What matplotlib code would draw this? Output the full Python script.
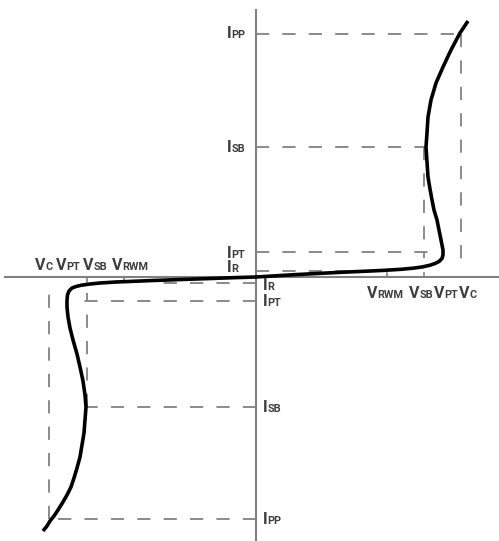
import matplotlib
matplotlib.use("Agg")
import matplotlib.pyplot as plt
from matplotlib.offsetbox import TextArea, HPacker, AnnotationBbox

# I-V curve of a bidirectional TVS diode (arbitrary units, origin at the axis crossing)
curve_v = [-213, -209, -206, -202, -198, -193, -189, -185, -182, -179, -176, -174,
           -172, -171, -170, -171, -173, -176, -179, -183, -186, -188, -189, -189,
           -188.5, -187, -184, -180, -175, -166, -156, -140, -120, -100, -80, -60,
           -40, -20, 0, 20, 40, 61, 85, 110, 127, 145, 157, 166, 174, 179, 183, 186,
           187, 187, 186, 185, 183, 181, 178, 176, 174, 172, 171, 170, 171, 172,
           175, 180, 187, 195, 204, 208, 212]
curve_i = [-254, -249, -244, -239, -233, -225, -218, -210, -201, -191, -180, -168,
           -156, -143, -130, -118, -104, -90, -77, -63, -51, -40, -30, -23,
           -18, -14, -11, -9.5, -8.3, -7, -6, -5, -4.2, -3.4, -2.7, -2,
           -1.3, -0.6, 0, 1.2, 2.4, 3.5, 4.7, 5.8, 6.6, 7.7, 8.8, 10, 11.8, 13.5, 15.5, 18.5,
           22, 27, 32, 37, 47, 57, 67, 77, 88, 100, 115, 130, 144, 160,
           177, 194, 210, 227, 244, 250, 256]

# characteristic levels, positive branch
V_POS = {"RWM": 131, "SB": 168, "PT": 187, "C": 205}
I_POS = {"R": 6.5, "PT": 25, "SB": 130, "PP": 243}
# negative branch
V_NEG = {"RWM": -132, "SB": -169, "PT": -189, "C": -207}
I_NEG = {"R": -6, "PT": -24, "SB": -130, "PP": -242}

TXT = "#3d3d3d"
DASH = "#8a8a8a"
plt.rcParams["lines.scale_dashes"] = False

fig = plt.figure(figsize=(4.99, 5.41), dpi=100)
ax = fig.add_axes([0, 0, 1, 1])
ax.set_xlim(-256, 243)
ax.set_ylim(-264, 277)
ax.axis("off")

# axes
ax.plot([-251, 243], [0, 0], color="#808080", lw=1.5, zorder=2)
ax.plot([0, 0], [-264, 267], color="#808080", lw=1.5, zorder=2)

dash_kw = dict(color=DASH, lw=1.4, ls=(0, (9.5, 9.5)), zorder=1)


def hline(y, x1):
    ax.plot([0, x1], [y, y], **dash_kw)


def vline(x, y0, y1):
    ax.plot([x, x], [y0, y1], **dash_kw)


# positive side guides
hline(I_POS["PP"], V_POS["C"])
vline(V_POS["C"], I_POS["PP"], 7)
hline(I_POS["SB"], 170)
vline(V_POS["SB"], I_POS["SB"], 19)
hline(I_POS["PT"], 172)
hline(I_POS["R"], 94)

# negative side guides
hline(I_NEG["PP"], V_NEG["C"])
vline(V_NEG["C"], I_NEG["PP"], -11)
hline(I_NEG["SB"], -170)
vline(V_NEG["SB"], I_NEG["SB"], -16)
hline(I_NEG["PT"], -176)
hline(I_NEG["R"], -96)

# small ticks on the voltage axis
for x in (V_POS["RWM"], V_POS["SB"]):
    ax.plot([x, x], [0, 4.5], color="#808080", lw=1.2, zorder=2)
for x in (V_NEG["RWM"], V_NEG["SB"]):
    ax.plot([x, x], [0, -5], color="#808080", lw=1.2, zorder=2)

ax.plot(curve_v, curve_i, color="black", lw=2.6, solid_joinstyle="round",
        solid_capstyle="butt", zorder=3)


def label(x, y, big, small):
    font = dict(family="Roboto", weight="bold", color=TXT)
    box = HPacker(children=[TextArea(big, textprops=dict(fontsize=11.5, **font)),
                            TextArea(small, textprops=dict(fontsize=7.8, **font))],
                  align="baseline", pad=0, sep=0)
    ab = AnnotationBbox(box, (x, y), box_alignment=(0, 0.5), frameon=False,
                        pad=0, annotation_clip=False)
    ax.add_artist(ab)


# current labels
label(-29, 243, "I", "PP")
label(-29, 130, "I", "SB")
label(-29, 24, "I", "PT")
label(-29, 9, "I", "R")
label(7, -9, "I", "R")
label(7, -25, "I", "PT")
label(7, -130, "I", "SB")
label(7, -242, "I", "PP")

# voltage labels
label(111, -16, "V", "RWM")
label(153, -16, "V", "SB")
label(178, -16, "V", "PT")
label(203, -16, "V", "C")
label(-221, 12, "V", "C")
label(-200, 12, "V", "PT")
label(-173, 12, "V", "SB")
label(-144, 12, "V", "RWM")

fig.savefig("out.png", dpi=100)
